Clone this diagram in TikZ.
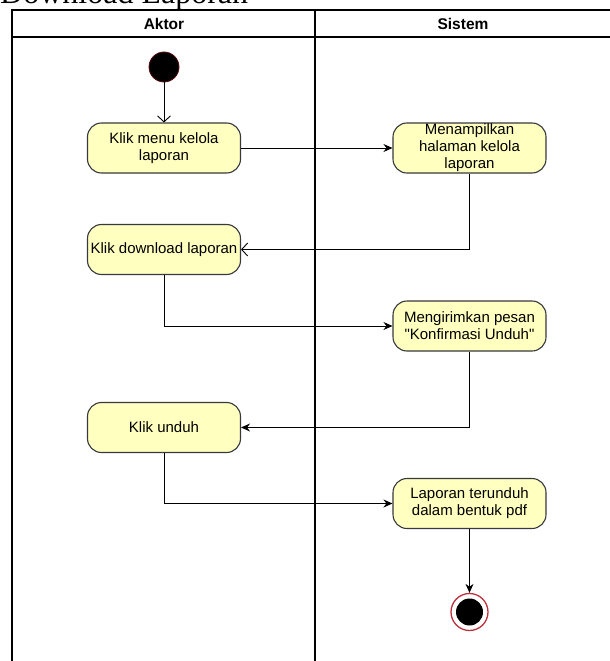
\documentclass[tikz,border=0pt]{standalone}
\usepackage{fontspec}
\setmainfont{Liberation Serif}
\setsansfont{Liberation Sans}[Ligatures=TeXOff]
\usepackage{tikz}
\usetikzlibrary{arrows.meta}
\definecolor{actfill}{HTML}{FFFFC0}
\definecolor{actline}{HTML}{36393D}
\definecolor{endred}{HTML}{C0303C}
\definecolor{startred}{HTML}{5A0A10}

\begin{document}
\begin{tikzpicture}[x=1pt,y=-1pt,
		act/.style={draw=actline,fill=actfill,line width=1.1pt,rounded corners=14pt,minimum width=153pt,minimum height=50pt,inner sep=0pt,align=center,font=\sffamily\fontsize{15}{17}\selectfont},
		lane/.style={draw=black,line width=1.2pt},
		head/.style={font=\sffamily\bfseries\fontsize{15.5}{18}\selectfont},
		flow/.style={draw=black,line width=0.9pt,-{Stealth[length=9pt,width=8pt]}},
		openflow/.style={draw=black,line width=0.9pt,-{Straight Barb[length=6pt,width=13pt]}}]
			\useasboundingbox (0,0) rectangle (610,661);
			\clip (0,0) rectangle (610,661);
			\node[anchor=base west,inner sep=0pt,font=\fontsize{32}{36}\selectfont] (title) at (0,4) {Download Laporan};
			\draw[lane] (12,661) |- (611,10);
			\draw[lane] (12,37) -- (611,37);
			\draw[lane] (315,10) -- (315,661);
			\node[head] (aktor) at (164,24) {Aktor};
			\node[head] (sistem) at (463,24) {Sistem};
			\node[circle,fill=black,draw=startred,line width=0.8pt,minimum size=30pt,inner sep=0pt] (start) at (164,67) {};
			\node[act] (n1) at (164,148) {Klik menu kelola\\laporan};
			\node[act] (n2) at (469.5,148) {Menampilkan\\halaman kelola\\laporan};
			\node[act] (n3) at (164,249.5) {Klik download laporan};
			\node[act] (n4) at (469.5,326) {Mengirimkan pesan\\"Konfirmasi Unduh"};
			\node[act] (n5) at (164,427.5) {Klik unduh};
			\node[act] (n6) at (469.5,503.5) {Laporan terunduh\\dalam bentuk pdf};
			\node[circle,draw=endred,line width=1.3pt,minimum size=37pt,inner sep=0pt] (end) at (469.5,612) {};
			\fill[black] (end.center) circle (13.5pt);
			\draw[openflow] (start) -- (n1);
			\draw[flow] (n1) -- (n2);
			\draw[openflow] (n2) |- (n3);
			\draw[flow] (n3) |- (n4);
			\draw[flow] (n4) |- (n5);
			\draw[flow] (n5) |- (n6);
			\draw[flow] (n6) -- (end);
		\end{tikzpicture}
\end{document}
